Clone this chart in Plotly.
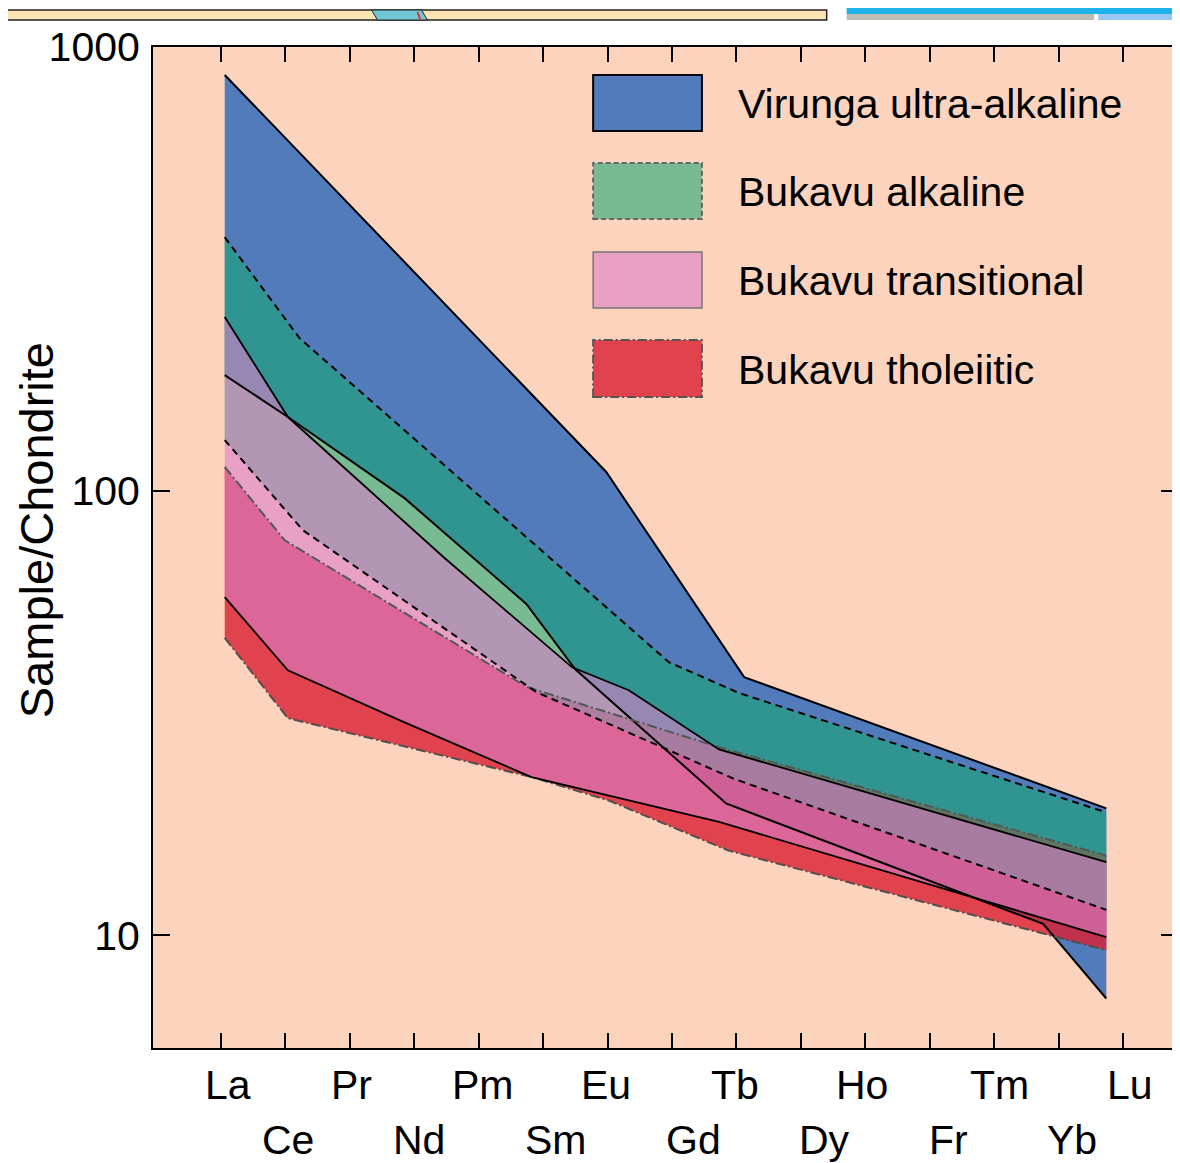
import plotly.graph_objects as go

# ---------------- data ----------------
elements = ["La", "Ce", "Pr", "Nd", "Pm", "Sm", "Eu", "Gd", "Tb", "Dy", "Ho", "Fr", "Tm", "Yb", "Lu"]
y_ticks = [10, 100, 1000]
y_ticktext = ["10", "100", "1000"]

# Virunga ultra-alkaline (x = position on element axis)
vir_top_x = [0.06, 5.98, 8.12, 13.74]
vir_top_y = [865, 110.4, 38.1, 19.3]
vir_bot_x = [0.06, 1.04, 2.85, 4.74, 5.50, 7.84, 12.76, 13.74]
vir_bot_y = [182.5, 146.8, 96.4, 55.7, 39.7, 19.8, 10.6, 7.2]

# Bukavu alkaline
alk_top_x = [0.06, 1.22, 6.95, 8.04, 13.74]
alk_top_y = [373.0, 221.0, 41.2, 35.1, 18.9]
alk_bot_x = [0.06, 1.27, 4.89, 7.96, 13.74]
alk_bot_y = [130.3, 81.7, 35.3, 22.5, 11.4]

# Bukavu transitional
tra_top_x = [0.06, 1.04, 3.47, 5.45, 6.33, 7.73, 13.74]
tra_top_y = [246.6, 146.8, 70.7, 40.1, 35.6, 26.2, 14.6]
tra_bot_x = [0.06, 1.04, 2.77, 4.82, 7.73, 13.74]
tra_bot_y = [57.7, 39.5, 30.5, 22.7, 18.0, 9.9]

# Bukavu tholeiitic
tho_top_x = [0.06, 0.99, 4.75, 7.73, 13.74]
tho_top_y = [113.3, 77.5, 36.2, 26.5, 15.1]
tho_bot_x = [0.06, 1.04, 4.82, 6.02, 7.88, 13.74]
tho_bot_y = [46.7, 30.8, 22.7, 20.1, 15.5, 9.25]

legend_names = ["Virunga ultra-alkaline", "Bukavu alkaline", "Bukavu transitional", "Bukavu tholeiitic"]

# ---------------- style ----------------
FONT = "Liberation Sans, Arial, Helvetica, sans-serif"
FS = 41
PEACH = "#FCD3BD"
C_BLUE = "rgb(82,123,187)"
C_RED = "rgba(217,32,52,0.81)"
C_GREEN = "rgba(24,167,116,0.58)"
C_PINK = "rgba(219,127,201,0.6)"

OFF = 8                      # page offset of the figure (body margin)
W, H = 1172, 1155
L, R, T, B = 145, 0, 39, 115
PW, PH = W - L - R, H - T - B

# horizontal label nudges (px) for the element names
label_dx = [7, 3, 2, 5, 4, 13, -2, 22, -1, 24, -3, 19, 5, 13, 7]


def px(xp):
    """page pixel x -> paper x"""
    return (xp - OFF - L) / PW


def py(yp):
    """page pixel y -> paper y"""
    return (OFF + H - B - yp) / PH


fig = go.Figure()


def band(xt, yt, xb, yb, color):
    fig.add_trace(go.Scatter(
        x=list(xb) + list(xt)[::-1], y=list(yb) + list(yt)[::-1],
        mode="lines", fill="toself", fillcolor=color,
        line=dict(width=0), hoverinfo="skip", showlegend=False))


def edge(x, y, color, dash, width=2):
    fig.add_trace(go.Scatter(x=x, y=y, mode="lines",
                             line=dict(color=color, width=width, dash=dash),
                             hoverinfo="skip", showlegend=False))


# fills (drawing order gives overlap colours)
band(vir_top_x, vir_top_y, vir_bot_x, vir_bot_y, C_BLUE)
band(tho_top_x, tho_top_y, tho_bot_x, tho_bot_y, C_RED)
band(alk_top_x, alk_top_y, alk_bot_x, alk_bot_y, C_GREEN)
band(tra_top_x, tra_top_y, tra_bot_x, tra_bot_y, C_PINK)

DASH_G = "7px,5px"
DASH_R = "10px,3px,2px,3px"
edge(vir_top_x, vir_top_y, "black", "solid")
edge(vir_bot_x, vir_bot_y, "black", "solid")
edge(tho_top_x, tho_top_y, "#505a55", DASH_R)
edge(tho_bot_x, tho_bot_y, "#505050", DASH_R)
edge(alk_top_x, alk_top_y, "black", DASH_G)
edge(alk_bot_x, alk_bot_y, "black", DASH_G)
edge(tra_top_x, tra_top_y, "black", "solid", 1.8)
edge(tra_bot_x, tra_bot_y, "black", "solid", 1.8)

shapes = []
annotations = []

# legend
leg_fill = [C_BLUE, C_GREEN, C_PINK, C_RED]
leg_line = [("black", "solid", 2), ("#666666", "5px,3px", 2), ("#777777", "solid", 1.5), ("#555555", "9px,3px,2px,3px", 2)]
leg_y = [(75, 131), (163, 219), (252, 308), (340, 397)]
for name, fc, (lc, ld, lw), (y0, y1) in zip(legend_names, leg_fill, leg_line, leg_y):
    shapes.append(dict(type="rect", xref="paper", yref="paper",
                       x0=px(594), x1=px(703), y0=py(y1), y1=py(y0),
                       fillcolor=fc, line=dict(color=lc, width=lw, dash=ld), layer="above"))
    annotations.append(dict(xref="paper", yref="paper", x=px(737), y=py((y0 + y1) / 2 + 1),
                            text=name, showarrow=False, xanchor="left", yanchor="middle",
                            font=dict(family=FONT, size=FS, color="black")))

# element labels in two staggered rows
for i, el in enumerate(elements):
    row2 = i % 2 == 1
    annotations.append(dict(xref="x", yref="paper", x=i, y=py(1140 if row2 else 1085),
                            text=el, showarrow=False, xanchor="center", yanchor="middle",
                            xshift=label_dx[i],
                            font=dict(family=FONT, size=FS, color="black")))

# y axis title
annotations.append(dict(xref="paper", yref="paper", x=px(36), y=py(530),
                        text="Sample/Chondrite", textangle=-90, showarrow=False,
                        xanchor="center", yanchor="middle",
                        font=dict(family=FONT, size=47, color="black")))

# cropped page fragments at the very top
shapes.append(dict(type="rect", xref="paper", yref="paper", x0=px(0), x1=px(828), y0=py(20), y1=py(10),
                   fillcolor="#FCE4B2", line=dict(color="#222222", width=1.5), layer="above"))
shapes.append(dict(type="path", xref="paper", yref="paper",
                   path=f"M {px(372)},{py(10)} L {px(422)},{py(10)} L {px(428)},{py(20)} L {px(378)},{py(20)} Z",
                   fillcolor="#72C7D6", line=dict(color="#222222", width=1), layer="above"))
shapes.append(dict(type="line", xref="paper", yref="paper", x0=px(418), x1=px(421), y0=py(12), y1=py(20),
                   line=dict(color="#E03030", width=2), layer="above"))
shapes.append(dict(type="rect", xref="paper", yref="paper", x0=px(848), x1=px(1185), y0=py(14), y1=py(0),
                   fillcolor="#1DB3E8", line=dict(width=0), layer="above"))
shapes.append(dict(type="rect", xref="paper", yref="paper", x0=px(848), x1=px(1096), y0=py(20), y1=py(14),
                   fillcolor="#BDBDB5", line=dict(width=0), layer="above"))
shapes.append(dict(type="rect", xref="paper", yref="paper", x0=px(1100), x1=px(1185), y0=py(20), y1=py(14),
                   fillcolor="#9CC6F2", line=dict(width=0), layer="above"))

fig.update_layout(
    width=W, height=H, autosize=False,
    margin=dict(l=L, r=R, t=T, b=B, pad=0),
    paper_bgcolor="white", plot_bgcolor=PEACH,
    showlegend=False,
    shapes=shapes, annotations=annotations,
    font=dict(family=FONT, size=FS, color="black"),
)
fig.update_xaxes(
    range=[(153 - 221) / 64.57, (1180 - 221) / 64.57],
    tickvals=list(range(len(elements))), showticklabels=False,
    ticks="inside", ticklen=15, tickwidth=2, tickcolor="black",
    showline=True, linecolor="black", linewidth=2, mirror="ticks",
    showgrid=False, zeroline=False,
)
fig.update_yaxes(
    type="log", range=[0.7459, 3.0],
    tickvals=y_ticks, ticktext=y_ticktext,
    ticks="inside", ticklen=17, tickwidth=2, tickcolor="black",
    tickfont=dict(family=FONT, size=FS, color="black"),
    ticklabelstandoff=3,
    showline=True, linecolor="black", linewidth=2, mirror="ticks",
    showgrid=False, zeroline=False, minor=dict(ticks=""),
)

fig.write_html("out.html")
